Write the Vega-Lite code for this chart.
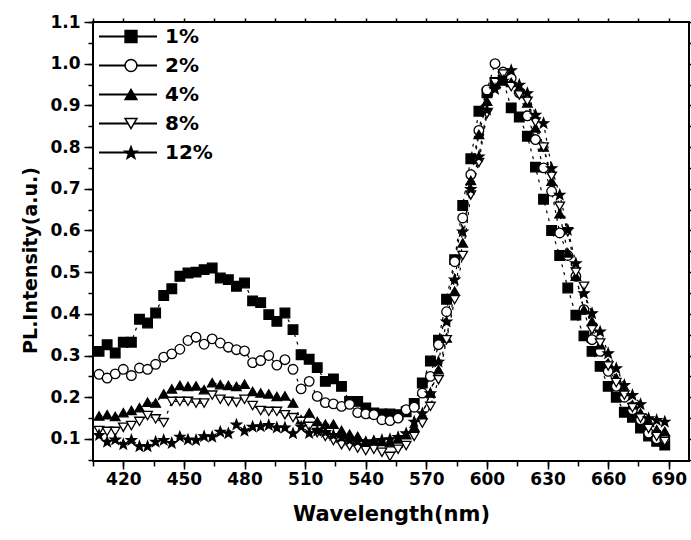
{
"$schema":"https://vega.github.io/schema/vega-lite/v6.json",
"width":596,"height":439,
"autosize":{"type":"none"},
"padding":{"left":93,"top":22,"right":2,"bottom":79},
"background":"white",
"config":{"view":{"stroke":"black","strokeWidth":2},"font":"DejaVu Sans",
 "axis":{"grid":false,"domain":false,"tickColor":"black","tickWidth":1.5,"labelColor":"black","labelFont":"DejaVu Sans","labelFontWeight":"bold","labelFontSize":17,"titleColor":"black","titleFont":"DejaVu Sans","titleFontWeight":"bold","titleFontSize":21}},
"data":{"values":[
{"s":"1%","x":408,"y":0.31},{"s":"1%","x":412,"y":0.326},{"s":"1%","x":416,"y":0.306},{"s":"1%","x":420,"y":0.332},{"s":"1%","x":424,"y":0.332},{"s":"1%","x":428,"y":0.387},{"s":"1%","x":432,"y":0.378},{"s":"1%","x":436,"y":0.402},{"s":"1%","x":440,"y":0.444},{"s":"1%","x":444,"y":0.46},{"s":"1%","x":448,"y":0.49},{"s":"1%","x":452,"y":0.498},{"s":"1%","x":456,"y":0.5},{"s":"1%","x":460,"y":0.506},{"s":"1%","x":464,"y":0.51},{"s":"1%","x":468,"y":0.486},{"s":"1%","x":472,"y":0.482},{"s":"1%","x":476,"y":0.466},{"s":"1%","x":480,"y":0.474},{"s":"1%","x":484,"y":0.431},{"s":"1%","x":488,"y":0.427},{"s":"1%","x":492,"y":0.398},{"s":"1%","x":496,"y":0.382},{"s":"1%","x":500,"y":0.402},{"s":"1%","x":504,"y":0.362},{"s":"1%","x":508,"y":0.302},{"s":"1%","x":512,"y":0.291},{"s":"1%","x":516,"y":0.271},{"s":"1%","x":520,"y":0.238},{"s":"1%","x":524,"y":0.244},{"s":"1%","x":528,"y":0.226},{"s":"1%","x":532,"y":0.19},{"s":"1%","x":536,"y":0.19},{"s":"1%","x":540,"y":0.174},{"s":"1%","x":544,"y":0.162},{"s":"1%","x":548,"y":0.16},{"s":"1%","x":552,"y":0.16},{"s":"1%","x":556,"y":0.158},{"s":"1%","x":560,"y":0.165},{"s":"1%","x":564,"y":0.185},{"s":"1%","x":568,"y":0.234},{"s":"1%","x":572,"y":0.287},{"s":"1%","x":576,"y":0.337},{"s":"1%","x":580,"y":0.435},{"s":"1%","x":584,"y":0.53},{"s":"1%","x":588,"y":0.66},{"s":"1%","x":592,"y":0.772},{"s":"1%","x":596,"y":0.886},{"s":"1%","x":600,"y":0.93},{"s":"1%","x":604,"y":0.955},{"s":"1%","x":608,"y":0.96},{"s":"1%","x":612,"y":0.894},{"s":"1%","x":616,"y":0.872},{"s":"1%","x":620,"y":0.826},{"s":"1%","x":624,"y":0.752},{"s":"1%","x":628,"y":0.675},{"s":"1%","x":632,"y":0.6},{"s":"1%","x":636,"y":0.54},{"s":"1%","x":640,"y":0.462},{"s":"1%","x":644,"y":0.397},{"s":"1%","x":648,"y":0.347},{"s":"1%","x":652,"y":0.31},{"s":"1%","x":656,"y":0.274},{"s":"1%","x":660,"y":0.226},{"s":"1%","x":664,"y":0.2},{"s":"1%","x":668,"y":0.164},{"s":"1%","x":672,"y":0.152},{"s":"1%","x":676,"y":0.126},{"s":"1%","x":680,"y":0.107},{"s":"1%","x":684,"y":0.094},{"s":"1%","x":688,"y":0.085},
{"s":"2%","x":408,"y":0.255},{"s":"2%","x":412,"y":0.246},{"s":"2%","x":416,"y":0.256},{"s":"2%","x":420,"y":0.267},{"s":"2%","x":424,"y":0.252},{"s":"2%","x":428,"y":0.27},{"s":"2%","x":432,"y":0.267},{"s":"2%","x":436,"y":0.279},{"s":"2%","x":440,"y":0.296},{"s":"2%","x":444,"y":0.304},{"s":"2%","x":448,"y":0.315},{"s":"2%","x":452,"y":0.336},{"s":"2%","x":456,"y":0.344},{"s":"2%","x":460,"y":0.327},{"s":"2%","x":464,"y":0.34},{"s":"2%","x":468,"y":0.33},{"s":"2%","x":472,"y":0.32},{"s":"2%","x":476,"y":0.314},{"s":"2%","x":480,"y":0.311},{"s":"2%","x":484,"y":0.283},{"s":"2%","x":488,"y":0.288},{"s":"2%","x":492,"y":0.3},{"s":"2%","x":496,"y":0.277},{"s":"2%","x":500,"y":0.29},{"s":"2%","x":504,"y":0.267},{"s":"2%","x":508,"y":0.22},{"s":"2%","x":512,"y":0.238},{"s":"2%","x":516,"y":0.202},{"s":"2%","x":520,"y":0.187},{"s":"2%","x":524,"y":0.184},{"s":"2%","x":528,"y":0.178},{"s":"2%","x":532,"y":0.183},{"s":"2%","x":536,"y":0.163},{"s":"2%","x":540,"y":0.16},{"s":"2%","x":544,"y":0.158},{"s":"2%","x":548,"y":0.146},{"s":"2%","x":552,"y":0.144},{"s":"2%","x":556,"y":0.15},{"s":"2%","x":560,"y":0.17},{"s":"2%","x":564,"y":0.176},{"s":"2%","x":568,"y":0.21},{"s":"2%","x":572,"y":0.25},{"s":"2%","x":576,"y":0.326},{"s":"2%","x":580,"y":0.405},{"s":"2%","x":584,"y":0.525},{"s":"2%","x":588,"y":0.63},{"s":"2%","x":592,"y":0.734},{"s":"2%","x":596,"y":0.84},{"s":"2%","x":600,"y":0.937},{"s":"2%","x":604,"y":1.0},{"s":"2%","x":608,"y":0.98},{"s":"2%","x":612,"y":0.965},{"s":"2%","x":616,"y":0.93},{"s":"2%","x":620,"y":0.875},{"s":"2%","x":624,"y":0.818},{"s":"2%","x":628,"y":0.75},{"s":"2%","x":632,"y":0.694},{"s":"2%","x":636,"y":0.594},{"s":"2%","x":640,"y":0.54},{"s":"2%","x":644,"y":0.49},{"s":"2%","x":648,"y":0.41},{"s":"2%","x":652,"y":0.338},{"s":"2%","x":656,"y":0.31},{"s":"2%","x":660,"y":0.262},{"s":"2%","x":664,"y":0.226},{"s":"2%","x":668,"y":0.2},{"s":"2%","x":672,"y":0.17},{"s":"2%","x":676,"y":0.146},{"s":"2%","x":680,"y":0.114},{"s":"2%","x":684,"y":0.1},{"s":"2%","x":688,"y":0.1},
{"s":"4%","x":408,"y":0.155},{"s":"4%","x":412,"y":0.158},{"s":"4%","x":416,"y":0.154},{"s":"4%","x":420,"y":0.163},{"s":"4%","x":424,"y":0.168},{"s":"4%","x":428,"y":0.175},{"s":"4%","x":432,"y":0.188},{"s":"4%","x":436,"y":0.186},{"s":"4%","x":440,"y":0.208},{"s":"4%","x":444,"y":0.22},{"s":"4%","x":448,"y":0.228},{"s":"4%","x":452,"y":0.226},{"s":"4%","x":456,"y":0.227},{"s":"4%","x":460,"y":0.218},{"s":"4%","x":464,"y":0.235},{"s":"4%","x":468,"y":0.23},{"s":"4%","x":472,"y":0.228},{"s":"4%","x":476,"y":0.226},{"s":"4%","x":480,"y":0.231},{"s":"4%","x":484,"y":0.214},{"s":"4%","x":488,"y":0.21},{"s":"4%","x":492,"y":0.208},{"s":"4%","x":496,"y":0.202},{"s":"4%","x":500,"y":0.203},{"s":"4%","x":504,"y":0.186},{"s":"4%","x":508,"y":0.146},{"s":"4%","x":512,"y":0.162},{"s":"4%","x":516,"y":0.142},{"s":"4%","x":520,"y":0.135},{"s":"4%","x":524,"y":0.135},{"s":"4%","x":528,"y":0.12},{"s":"4%","x":532,"y":0.111},{"s":"4%","x":536,"y":0.106},{"s":"4%","x":540,"y":0.094},{"s":"4%","x":544,"y":0.096},{"s":"4%","x":548,"y":0.094},{"s":"4%","x":552,"y":0.091},{"s":"4%","x":556,"y":0.1},{"s":"4%","x":560,"y":0.11},{"s":"4%","x":564,"y":0.128},{"s":"4%","x":568,"y":0.158},{"s":"4%","x":572,"y":0.21},{"s":"4%","x":576,"y":0.266},{"s":"4%","x":580,"y":0.342},{"s":"4%","x":584,"y":0.454},{"s":"4%","x":588,"y":0.57},{"s":"4%","x":592,"y":0.72},{"s":"4%","x":596,"y":0.83},{"s":"4%","x":600,"y":0.91},{"s":"4%","x":604,"y":0.95},{"s":"4%","x":608,"y":0.965},{"s":"4%","x":612,"y":0.955},{"s":"4%","x":616,"y":0.94},{"s":"4%","x":620,"y":0.906},{"s":"4%","x":624,"y":0.846},{"s":"4%","x":628,"y":0.8},{"s":"4%","x":632,"y":0.718},{"s":"4%","x":636,"y":0.64},{"s":"4%","x":640,"y":0.546},{"s":"4%","x":644,"y":0.49},{"s":"4%","x":648,"y":0.41},{"s":"4%","x":652,"y":0.382},{"s":"4%","x":656,"y":0.326},{"s":"4%","x":660,"y":0.282},{"s":"4%","x":664,"y":0.246},{"s":"4%","x":668,"y":0.214},{"s":"4%","x":672,"y":0.182},{"s":"4%","x":676,"y":0.162},{"s":"4%","x":680,"y":0.142},{"s":"4%","x":684,"y":0.122},{"s":"4%","x":688,"y":0.118},
{"s":"8%","x":408,"y":0.12},{"s":"8%","x":412,"y":0.118},{"s":"8%","x":416,"y":0.118},{"s":"8%","x":420,"y":0.128},{"s":"8%","x":424,"y":0.132},{"s":"8%","x":428,"y":0.142},{"s":"8%","x":432,"y":0.156},{"s":"8%","x":436,"y":0.148},{"s":"8%","x":440,"y":0.139},{"s":"8%","x":444,"y":0.19},{"s":"8%","x":448,"y":0.19},{"s":"8%","x":452,"y":0.19},{"s":"8%","x":456,"y":0.186},{"s":"8%","x":460,"y":0.186},{"s":"8%","x":464,"y":0.205},{"s":"8%","x":468,"y":0.195},{"s":"8%","x":472,"y":0.19},{"s":"8%","x":476,"y":0.188},{"s":"8%","x":480,"y":0.195},{"s":"8%","x":484,"y":0.18},{"s":"8%","x":488,"y":0.168},{"s":"8%","x":492,"y":0.166},{"s":"8%","x":496,"y":0.166},{"s":"8%","x":500,"y":0.158},{"s":"8%","x":504,"y":0.151},{"s":"8%","x":508,"y":0.142},{"s":"8%","x":512,"y":0.13},{"s":"8%","x":516,"y":0.115},{"s":"8%","x":520,"y":0.106},{"s":"8%","x":524,"y":0.096},{"s":"8%","x":528,"y":0.086},{"s":"8%","x":532,"y":0.083},{"s":"8%","x":536,"y":0.078},{"s":"8%","x":540,"y":0.072},{"s":"8%","x":544,"y":0.075},{"s":"8%","x":548,"y":0.068},{"s":"8%","x":552,"y":0.058},{"s":"8%","x":556,"y":0.075},{"s":"8%","x":560,"y":0.084},{"s":"8%","x":564,"y":0.106},{"s":"8%","x":568,"y":0.138},{"s":"8%","x":572,"y":0.178},{"s":"8%","x":576,"y":0.242},{"s":"8%","x":580,"y":0.338},{"s":"8%","x":584,"y":0.434},{"s":"8%","x":588,"y":0.54},{"s":"8%","x":592,"y":0.685},{"s":"8%","x":596,"y":0.763},{"s":"8%","x":600,"y":0.88},{"s":"8%","x":604,"y":0.955},{"s":"8%","x":608,"y":0.975},{"s":"8%","x":612,"y":0.945},{"s":"8%","x":616,"y":0.925},{"s":"8%","x":620,"y":0.91},{"s":"8%","x":624,"y":0.86},{"s":"8%","x":628,"y":0.8},{"s":"8%","x":632,"y":0.73},{"s":"8%","x":636,"y":0.658},{"s":"8%","x":640,"y":0.597},{"s":"8%","x":644,"y":0.5},{"s":"8%","x":648,"y":0.466},{"s":"8%","x":652,"y":0.362},{"s":"8%","x":656,"y":0.33},{"s":"8%","x":660,"y":0.275},{"s":"8%","x":664,"y":0.235},{"s":"8%","x":668,"y":0.205},{"s":"8%","x":672,"y":0.175},{"s":"8%","x":676,"y":0.15},{"s":"8%","x":680,"y":0.125},{"s":"8%","x":684,"y":0.106},{"s":"8%","x":688,"y":0.094},
{"s":"12%","x":408,"y":0.11},{"s":"12%","x":412,"y":0.094},{"s":"12%","x":416,"y":0.099},{"s":"12%","x":420,"y":0.088},{"s":"12%","x":424,"y":0.098},{"s":"12%","x":428,"y":0.083},{"s":"12%","x":432,"y":0.083},{"s":"12%","x":436,"y":0.094},{"s":"12%","x":440,"y":0.098},{"s":"12%","x":444,"y":0.091},{"s":"12%","x":448,"y":0.106},{"s":"12%","x":452,"y":0.099},{"s":"12%","x":456,"y":0.098},{"s":"12%","x":460,"y":0.107},{"s":"12%","x":464,"y":0.106},{"s":"12%","x":468,"y":0.118},{"s":"12%","x":472,"y":0.114},{"s":"12%","x":476,"y":0.135},{"s":"12%","x":480,"y":0.12},{"s":"12%","x":484,"y":0.13},{"s":"12%","x":488,"y":0.131},{"s":"12%","x":492,"y":0.134},{"s":"12%","x":496,"y":0.128},{"s":"12%","x":500,"y":0.128},{"s":"12%","x":504,"y":0.114},{"s":"12%","x":508,"y":0.13},{"s":"12%","x":512,"y":0.115},{"s":"12%","x":516,"y":0.12},{"s":"12%","x":520,"y":0.117},{"s":"12%","x":524,"y":0.11},{"s":"12%","x":528,"y":0.105},{"s":"12%","x":532,"y":0.098},{"s":"12%","x":536,"y":0.095},{"s":"12%","x":540,"y":0.093},{"s":"12%","x":544,"y":0.095},{"s":"12%","x":548,"y":0.098},{"s":"12%","x":552,"y":0.1},{"s":"12%","x":556,"y":0.105},{"s":"12%","x":560,"y":0.114},{"s":"12%","x":564,"y":0.142},{"s":"12%","x":568,"y":0.162},{"s":"12%","x":572,"y":0.21},{"s":"12%","x":576,"y":0.286},{"s":"12%","x":580,"y":0.382},{"s":"12%","x":584,"y":0.483},{"s":"12%","x":588,"y":0.598},{"s":"12%","x":592,"y":0.7},{"s":"12%","x":596,"y":0.778},{"s":"12%","x":600,"y":0.89},{"s":"12%","x":604,"y":0.94},{"s":"12%","x":608,"y":0.96},{"s":"12%","x":612,"y":0.985},{"s":"12%","x":616,"y":0.95},{"s":"12%","x":620,"y":0.93},{"s":"12%","x":624,"y":0.878},{"s":"12%","x":628,"y":0.858},{"s":"12%","x":632,"y":0.75},{"s":"12%","x":636,"y":0.686},{"s":"12%","x":640,"y":0.602},{"s":"12%","x":644,"y":0.522},{"s":"12%","x":648,"y":0.45},{"s":"12%","x":652,"y":0.402},{"s":"12%","x":656,"y":0.358},{"s":"12%","x":660,"y":0.306},{"s":"12%","x":664,"y":0.27},{"s":"12%","x":668,"y":0.23},{"s":"12%","x":672,"y":0.206},{"s":"12%","x":676,"y":0.184},{"s":"12%","x":680,"y":0.15},{"s":"12%","x":684,"y":0.146},{"s":"12%","x":688,"y":0.142}
]},
"resolve":{"axis":{"x":"independent","y":"independent"}},
"layer":[
{"mark":{"type":"line","strokeWidth":1.2,"strokeDash":[3,5]},
 "encoding":{
  "x":{"field":"x","type":"quantitative","scale":{"domain":[405,700],"nice":false,"zero":false},
   "axis":{"orient":"bottom","values":[420,450,480,510,540,570,600,630,660,690],"title":"Wavelength(nm)","tickSize":8,"labelPadding":2,"titlePadding":16}},
  "y":{"field":"y","type":"quantitative","scale":{"domain":[0.047,1.1],"nice":false,"zero":false},
   "axis":{"orient":"left","values":[0.1,0.2,0.3,0.4,0.5,0.6,0.7,0.8,0.9,1.0,1.1],"format":".1f","title":"PL.Intensity(a.u.)","titleFontSize":19,"tickSize":9,"labelPadding":4,"titlePadding":9,"titleY":238}},
  "color":{"field":"s","type":"nominal","sort":["1%","2%","4%","8%","12%"],"scale":{"range":["black","black","black","black","black"]},
   "legend":{"orient":"none","legendX":5,"legendY":0,"title":null,"symbolType":"stroke","symbolSize":3364,"symbolStrokeWidth":2,"symbolDash":[1,0],"clipHeight":29,"rowPadding":0,"padding":0,"labelFont":"DejaVu Sans","labelFontWeight":"bold","labelFontSize":20,"labelColor":"black","labelOffset":7,"zindex":1}}
 }},
{"mark":{"type":"point","filled":true,"stroke":"black","strokeWidth":1.3,"opacity":1,"size":92},
 "encoding":{
  "x":{"field":"x","type":"quantitative","axis":{"orient":"bottom","values":[405,420,435,450,465,480,495,510,525,540,555,570,585,600,615,630,645,660,675,690],"labels":false,"title":null,"tickSize":5}},
  "y":{"field":"y","type":"quantitative","axis":{"orient":"left","values":[0.05,0.1,0.15,0.2,0.25,0.3,0.35,0.4,0.45,0.5,0.55,0.6,0.65,0.7,0.75,0.8,0.85,0.9,0.95,1.0,1.05,1.1],"labels":false,"title":null,"tickSize":5}},
  "shape":{"field":"s","type":"nominal","scale":{"domain":["1%","2%","4%","8%","12%"],"range":["square","circle","triangle-up","triangle-down","M0,-1L0.27,-0.272L1.046,-0.24L0.437,0.242L0.647,0.99L0,0.56L-0.647,0.99L-0.437,0.242L-1.046,-0.24L-0.27,-0.272Z"]},
   "legend":{"orient":"none","legendX":28,"legendY":0,"title":null,"symbolSize":140,"symbolStrokeColor":"black","symbolStrokeWidth":1.5,"clipHeight":29,"rowPadding":0,"padding":0,"labelFontSize":20,"labelExpr":"''","zindex":2}},
  "fill":{"field":"s","type":"nominal","scale":{"domain":["1%","2%","4%","8%","12%"],"range":["black","white","black","white","black"]},
   "legend":{"orient":"none","legendX":28,"legendY":0,"title":null,"symbolSize":140,"symbolStrokeColor":"black","symbolStrokeWidth":1.5,"clipHeight":29,"rowPadding":0,"padding":0,"labelFontSize":20,"labelExpr":"''","zindex":2}},
  "stroke":{"field":"s","type":"nominal","scale":{"domain":["1%","2%","4%","8%","12%"],"range":["black","black","black","black","black"]},
   "legend":{"orient":"none","legendX":28,"legendY":0,"title":null,"symbolSize":140,"symbolStrokeWidth":1.5,"clipHeight":29,"rowPadding":0,"padding":0,"labelFontSize":20,"labelExpr":"''","zindex":2}}
 }},
{"mark":{"type":"point","opacity":0},
 "encoding":{
  "x":{"field":"x","type":"quantitative","axis":{"orient":"top","values":[405,420,435,450,465,480,495,510,525,540,555,570,585,600,615,630,645,660,675,690],"labels":false,"title":null,"tickSize":4}},
  "y":{"field":"y","type":"quantitative","axis":{"orient":"right","values":[0.05,0.1,0.15,0.2,0.25,0.3,0.35,0.4,0.45,0.5,0.55,0.6,0.65,0.7,0.75,0.8,0.85,0.9,0.95,1.0,1.05,1.1],"labels":false,"title":null,"tickSize":4}}
 }}
]
}
